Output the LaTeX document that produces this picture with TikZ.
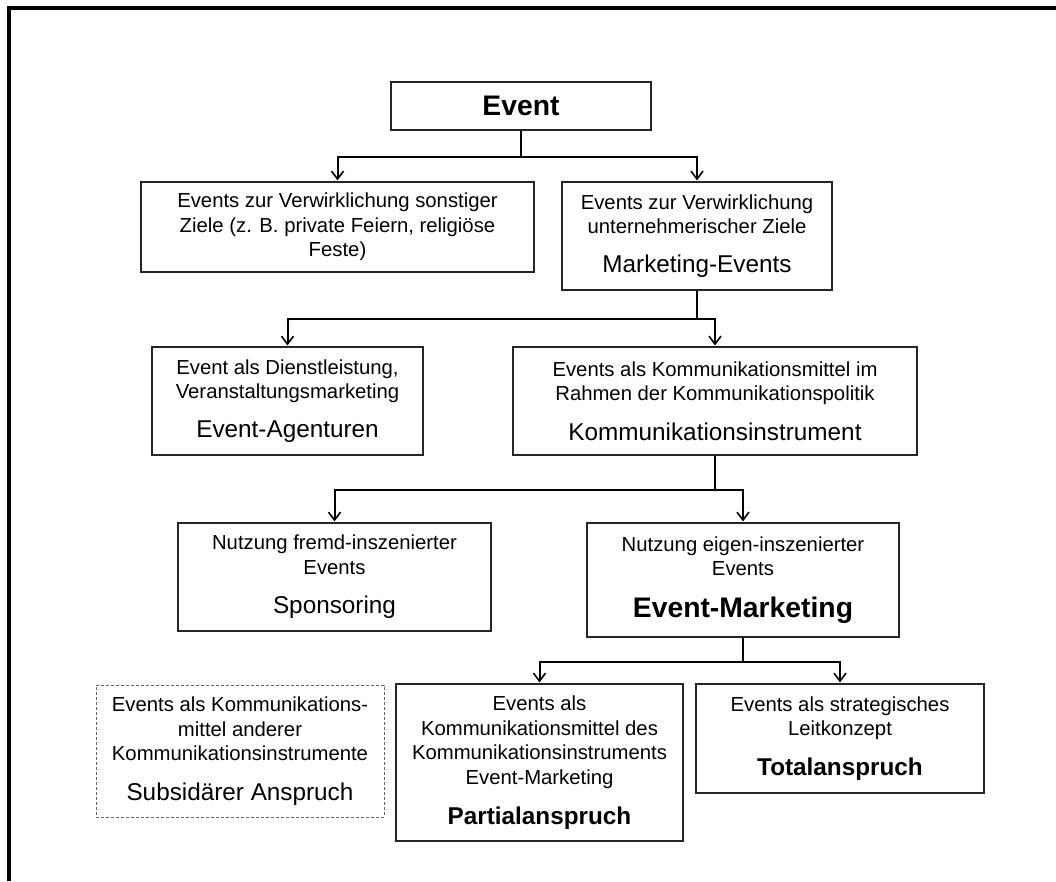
\documentclass[tikz,border=0pt]{standalone}
\usepackage{fontspec}
\setmainfont{Liberation Sans}
\usetikzlibrary{arrows.meta,calc}
\newcommand\fsN{\fontsize{20.3}{24.6}\selectfont}
\newcommand\fsL{\fontsize{24.3}{29}\selectfont}
\newcommand\fsH{\fontsize{28.3}{34}\selectfont}
\begin{document}
\begin{tikzpicture}[x=1pt,y=-1pt,
  box/.style={draw=black!85, line width=1.1pt, rectangle, align=center, inner sep=0pt, font=\fsN},
  dbox/.style={box, draw=black!60, line width=0.9pt, dash pattern=on 3pt off 2pt},
  arr/.style={line width=2pt, -{Straight Barb[length=8pt,width=12pt,line width=1.6pt]}, shorten >=1pt},
  ln/.style={line width=2pt},
  frame/.style={line width=4.5pt}]
\useasboundingbox (0,0) rectangle (1056,881);
\fill[white] (0,0) rectangle (1056,881);
\draw[frame] (9,881) -- (9,8) -- (1056,8);

\node[box, minimum width=260pt, minimum height=48pt] (ev) at (521,106) {\fsH\bfseries Event};
\node[box, minimum width=393pt, minimum height=90pt] (l1) at (337.5,227)
  {Events zur Verwirklichung sonstiger\\Ziele (z. B. private Feiern, religiöse\\Feste)};
\node[box, minimum width=270pt, minimum height=108pt] (r1) at (697,236)
  {Events zur Verwirklichung\\unternehmerischer Ziele\\[14pt]{\fsL Marketing-Events}};
\node[box, minimum width=271pt, minimum height=108pt] (ea) at (287.5,401)
  {Event als Dienstleistung,\\Veranstaltungsmarketing\\[14pt]{\fsL Event-Agenturen}};
\node[box, minimum width=404pt, minimum height=108pt] (ki) at (715,401)
  {Events als Kommunikationsmittel im\\Rahmen der Kommunikationspolitik\\[15pt]{\fsL Kommunikationsinstrument}};
\node[box, minimum width=313pt, minimum height=108pt] (sp) at (334.5,577)
  {Nutzung fremd-inszenierter\\Events\\[15pt]{\fsL Sponsoring}};
\node[box, minimum width=312pt, minimum height=114pt] (em) at (743,580)
  {Nutzung eigen-inszenierter\\Events\\[17pt]{\fsH\bfseries Event-Marketing}};
\node[dbox, minimum width=288pt, minimum height=132pt] (sub) at (240,751)
  {Events als Kommunikations-\\mittel anderer\\Kommunikationsinstrumente\\[15pt]{\fsL Subsidärer Anspruch}};
\node[box, minimum width=287pt, minimum height=157pt] (pa) at (539.5,762.5)
  {Events als\\Kommunikationsmittel des\\Kommunikationsinstruments\\Event-Marketing\\[15pt]{\fsL\bfseries Partialanspruch}};
\node[box, minimum width=288pt, minimum height=109pt] (ta) at (840,738.5)
  {Events als strategisches\\Leitkonzept\\[15pt]{\fsL\bfseries Totalanspruch}};

\coordinate (j0) at ($(ev.south)+(0,26)$);
\draw[ln] (ev.south) -- (j0);
\draw[arr] (j0) -| (l1.north);
\draw[arr] (j0) -| (r1.north);

\coordinate (j1) at ($(r1.south)+(0,28)$);
\draw[ln] (r1.south) -- (j1);
\draw[arr] (j1) -| (ea.north);
\draw[arr] (j1) -| (ki.north);

\coordinate (j2) at ($(ki.south)+(0,34)$);
\draw[ln] (ki.south) -- (j2);
\draw[arr] (j2) -| (sp.north);
\draw[arr] (j2) -| (em.north);

\coordinate (j3) at ($(em.south)+(0,24)$);
\draw[ln] (em.south) -- (j3);
\draw[arr] (j3) -| (pa.north);
\draw[arr] (j3) -| (ta.north);
\end{tikzpicture}
\end{document}
